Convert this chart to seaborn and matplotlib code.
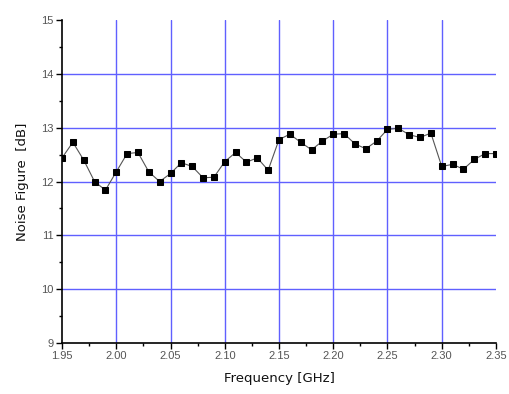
import matplotlib
matplotlib.use("Agg")
import matplotlib.pyplot as plt
import seaborn as sns
import pandas as pd
from matplotlib.ticker import MultipleLocator

freq = [1.95, 1.96, 1.97, 1.98, 1.99, 2.00, 2.01, 2.02, 2.03, 2.04, 2.05,
        2.06, 2.07, 2.08, 2.09, 2.10, 2.11, 2.12, 2.13, 2.14, 2.15,
        2.16, 2.17, 2.18, 2.19, 2.20, 2.21, 2.22, 2.23, 2.24, 2.25,
        2.26, 2.27, 2.28, 2.29, 2.30, 2.31, 2.32, 2.33, 2.34, 2.35]
nf = [12.44, 12.73, 12.40, 12.00, 11.84, 12.18, 12.52, 12.54, 12.18, 12.00, 12.15,
      12.35, 12.28, 12.07, 12.08, 12.37, 12.54, 12.36, 12.44, 12.21, 12.78,
      12.88, 12.73, 12.59, 12.75, 12.88, 12.89, 12.70, 12.61, 12.75, 12.97,
      12.99, 12.87, 12.82, 12.90, 12.28, 12.32, 12.23, 12.41, 12.52, 12.52]
x_ticks = [1.95, 2.00, 2.05, 2.10, 2.15, 2.20, 2.25, 2.30, 2.35]
y_ticks = [9, 10, 11, 12, 13, 14, 15]

sns.set_style("white")
plt.rcParams['font.family'] = ['Liberation Sans', 'DejaVu Sans']

df = pd.DataFrame({"Frequency": freq, "NF": nf})

fig = plt.figure(figsize=(5.1, 3.94), dpi=100)
ax = fig.add_axes([0.1216, 0.1294, 0.8509, 0.8196])

for xv in x_ticks[1:-1]:
    ax.axvline(xv, color="#6060ff", lw=1.0, zorder=0)
for yv in y_ticks[1:-1]:
    ax.axhline(yv, color="#6060ff", lw=1.0, zorder=0)

sns.lineplot(data=df, x="Frequency", y="NF", ax=ax, color="#555555", lw=0.8,
             marker="s", markersize=5, markerfacecolor="black",
             markeredgecolor="black", zorder=3)

ax.set_xlim(1.95, 2.35)
ax.set_ylim(9, 15)
ax.set_xticks(x_ticks)
ax.set_xticklabels([f"{v:.2f}" for v in x_ticks])
ax.set_yticks(y_ticks)
ax.set_yticklabels([str(v) for v in y_ticks])
ax.xaxis.set_minor_locator(MultipleLocator(0.025))
ax.yaxis.set_minor_locator(MultipleLocator(0.5))
ax.tick_params(which="major", direction="out", length=4, width=1, color="black",
               labelsize=8, labelcolor="#555555", bottom=True, left=True, pad=2)
ax.tick_params(which="minor", direction="out", length=2.5, width=1, color="black",
               bottom=True, left=True)

for s in ["top", "right"]:
    ax.spines[s].set_visible(False)
for s in ["left", "bottom"]:
    ax.spines[s].set_color("black")
    ax.spines[s].set_linewidth(1.2)

ax.set_xlabel("Frequency [GHz]", fontsize=9.5, color="#111111", labelpad=8,
              family=["DejaVu Sans"])
ax.set_ylabel("Noise Figure  [dB]", fontsize=9.5, color="#111111", labelpad=9,
              family=["DejaVu Sans"])

fig.savefig("out.png", dpi=100)
